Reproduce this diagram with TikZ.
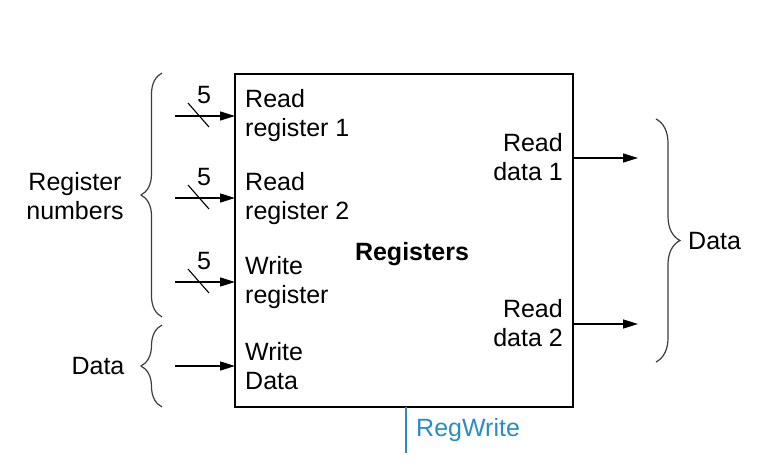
\documentclass[tikz,border=0pt]{standalone}
\usepackage{fontspec}
\setmainfont{Liberation Sans}
\usetikzlibrary{arrows.meta,decorations.pathreplacing}
\definecolor{regblue}{RGB}{40,140,200}
\definecolor{bracegray}{RGB}{60,60,60}
\begin{document}
\begin{tikzpicture}[x=1pt,y=-1pt,
  lbl/.style={font=\fontsize{25}{29}\selectfont,inner sep=0pt},
  lleft/.style={lbl,align=left,anchor=west},
  lright/.style={lbl,align=right,anchor=east},
  wire/.style={line width=1.5pt,-{Triangle[length=15pt,width=9pt]}},
  slashmark/.style={line width=1.1pt},
  bracestyle/.style={draw=bracegray,line width=1.2pt,decorate,decoration={brace,amplitude=21pt}}]
\useasboundingbox (0,0) rectangle (776,466);
% register file box
\node[draw,line width=1.2pt,minimum width=338pt,minimum height=333pt,inner sep=0pt] (box) at (404,240.5) {};
\node[lbl,font=\bfseries\fontsize{25}{29}\selectfont] (title) at (412,254) {Registers};
% input labels
\node[lleft] (rr1) at (245,116) {Read\\register 1};
\node[lleft] (rr2) at (245,199) {Read\\register 2};
\node[lleft] (wr) at (245,283) {Write\\register};
\node[lleft] (wd) at (245,366) {Write\\Data};
% input wires
\coordinate (i1) at (175,116);
\coordinate (i2) at (175,198);
\coordinate (i3) at (175,282);
\coordinate (i4) at (175,366);
\coordinate (b1) at (235,116);
\coordinate (b2) at (235,198);
\coordinate (b3) at (235,282);
\coordinate (b4) at (235,366);
\draw[wire] (i1) -- (b1);
\draw[wire] (i2) -- (b2);
\draw[wire] (i3) -- (b3);
\draw[wire] (i4) -- (b4);
% bus width marks
\foreach \y/\n in {116/s1,198/s2,282/s3}{
  \draw[slashmark] (188,\y-13) -- (209,\y+11);
  \node[lbl] (\n) at (204,\y-21) {5};
}
% outputs
\node[lright] (rd1) at (563,157) {Read\\data 1};
\node[lright] (rd2) at (563,323) {Read\\data 2};
\coordinate (o1s) at (573,158);
\coordinate (o2s) at (573,324);
\coordinate (o1) at (638,158);
\coordinate (o2) at (638,324);
\draw[wire] (o1s) -- (o1);
\draw[wire] (o2s) -- (o2);
% braces
\coordinate (lb1t) at (162,73);
\coordinate (lb1b) at (162,317);
\coordinate (lb2t) at (162,325);
\coordinate (lb2b) at (162,407);
\coordinate (rbt) at (656,119);
\coordinate (rbb) at (656,362);
\draw[bracestyle] (lb1b) -- (lb1t);
\draw[bracestyle] (lb2b) -- (lb2t);
\draw[bracestyle,decoration={brace,amplitude=24pt}] (rbt) -- (rbb);
\node[lbl,align=center] (regnum) at (75,196) {Register\\numbers};
\node[lbl] (datal) at (98,366) {Data};
\node[lbl,anchor=west] (datar) at (688,241) {Data};
% RegWrite control
\coordinate (rwtop) at (406,407);
\coordinate (rwbot) at (406,453);
\draw[regblue,line width=1.2pt] (rwtop) -- (rwbot);
\node[lbl,anchor=west,text=regblue] (rw) at (416,430) {RegWrite};
\end{tikzpicture}
\end{document}
